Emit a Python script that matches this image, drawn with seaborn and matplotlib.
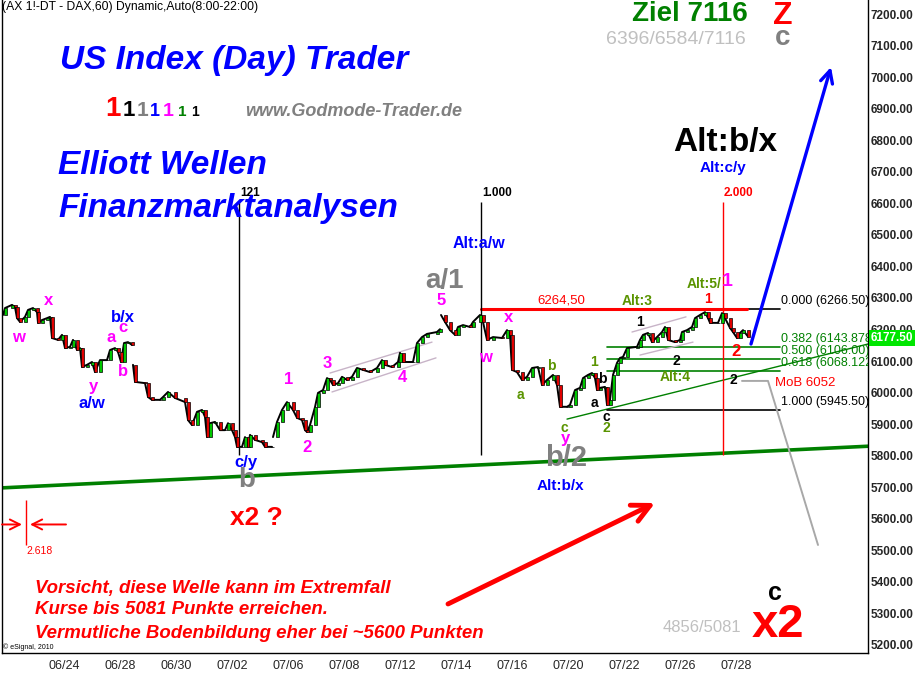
import pandas as pd
import seaborn as sns
import matplotlib.pyplot as plt

# hourly DAX path; x = hourly bar number (0 = 06/24 open,
# 14 bars per trading day)
bars_a = [-30.5, -29.5, -26, -24.5, -23.5, -22, -19.5, -18, -15.5, -13.5,
          -13, -11, -8.5, -7, -6, -3, -1, 0.5, 3, 4.5,
          6.5, 8, 9, 11.5, 14, 15.5, 18, 21.5, 23, 25.5,
          27, 28.5, 30, 32, 34]
close_a = [6246, 6268, 6278, 6271, 6236, 6224, 6240, 6262, 6268, 6255,
           6221, 6230, 6236, 6240, 6173, 6167, 6183, 6141, 6145, 6167,
           6135, 6141, 6081, 6088, 6097, 6065, 6103, 6103, 6135, 6141,
           6129, 6097, 6157, 6160, 6151]
bars_b = [34.5, 35.5, 40.5, 42, 44, 48, 49.5, 52, 55.5, 60.5,
          62, 64, 66.5, 69, 70.5, 71.5, 73, 75.5, 78, 80.5,
          82, 84, 85.5, 86.5, 89, 90.5, 92, 93, 95.5, 99,
          100.5, 104]
close_b = [6088, 6034, 6030, 5986, 5977, 5977, 5986, 6002, 5983, 5970,
           5913, 5897, 5939, 5945, 5923, 5859, 5903, 5907, 5881, 5881,
           5903, 5881, 5859, 5828, 5828, 5859, 5828, 5866, 5850, 5843,
           5828, 5828]
bars_c = [104.5, 106.5, 109, 111.5, 114.5, 116.5, 119, 120.5, 121.5, 123,
          125.5, 127, 129.5, 131.5, 133, 134.5, 137, 139, 141.5, 144,
          146.5, 149.5, 153, 156.5, 159, 160.5, 164, 167, 168, 169.5,
          172, 174.5, 176.5, 179, 181.5, 186.5, 188]
close_c = [5859, 5907, 5945, 5970, 5945, 5920, 5913, 5881, 5875, 5897,
           5954, 5999, 6008, 6046, 6040, 6024, 6030, 6050, 6040, 6050,
           6078, 6072, 6065, 6078, 6103, 6088, 6081, 6097, 6126, 6097,
           6097, 6097, 6157, 6176, 6186, 6192, 6201]
bars_d = [188.5, 190.5, 193, 195.5, 197, 199.5, 203, 204.5, 208, 209.5,
          211.5, 214.5, 219, 221.5, 223, 224, 226.5, 229, 231.5, 234,
          237, 239, 241.5, 244.5, 246.5, 248, 251.5, 253, 255.5, 258,
          259.5, 262, 264, 265.5, 266.5, 268, 270.5, 271.5, 273, 274.5,
          276.5, 278, 279.5, 281.5, 286.5, 288, 289.5, 292, 294, 296.5,
          299, 300.5, 302, 305.5, 308, 309, 311.5, 314, 315.5, 318,
          320.5, 322, 323, 327, 329, 330.5, 333, 334.5, 336.5, 338,
          339.5, 342]
close_d = [6246, 6224, 6198, 6183, 6208, 6214, 6208, 6224, 6246, 6224,
           6167, 6176, 6173, 6198, 6183, 6072, 6065, 6040, 6050, 6078,
           6081, 6024, 6040, 6056, 6024, 5955, 5955, 5961, 6008, 6015,
           6046, 6056, 6062, 6046, 6008, 6015, 6018, 5961, 5977, 6056,
           6094, 6110, 6113, 6141, 6145, 6167, 6183, 6189, 6160, 6176,
           6192, 6208, 6167, 6160, 6167, 6192, 6198, 6208, 6236, 6246,
           6255, 6236, 6221, 6221, 6252, 6236, 6205, 6192, 6173, 6189,
           6198, 6177.5]

date_labels = ["06/24", "06/28", "06/30", "07/02", "07/06", "07/08", "07/12",
               "07/14", "07/16", "07/20", "07/22", "07/26", "07/28"]
date_bars = list(range(0, 337, 28))
price_ticks = list(range(5200, 7201, 100))

fib_levels = [6266.5, 6143.878, 6106.0, 6068.122, 5945.5]
fib_names = ["0.000 (6266.50)", "0.382 (6143.878)", "0.500 (6106.00)",
             "0.618 (6068.122)", "1.000 (5945.50)"]
fib_colors = ["black", "#008000", "#008000", "#008000", "black"]
fib_span = [271.5, 358]
high_mark = 6264.5
high_span = [208.5, 341.5]
time_bars = [87.5, 208.5, 329.5]
time_names = ["121", "1.000", "2.000"]
time_colors = ["black", "black", "red"]
time_range = [5803, 6604]
trend_bars = [-31, 402]
trend_prices = [5698, 5830]
thin_bars = [251.5, 402]
thin_prices = [5916, 6154]
last_price = 6177.50

W, H = 916, 674
sns.set_style("white")
plt.rcParams["font.family"] = ["Liberation Sans", "DejaVu Sans"]

fig = plt.figure(figsize=(W / 100, H / 100), dpi=100)
ax = fig.add_axes([2 / W, 21 / H, 866 / W, 653 / H])

legs = []
for name, b, c in [("a", bars_a, close_a), ("b", bars_b, close_b),
                   ("c", bars_c, close_c), ("d", bars_d, close_d)]:
    legs.append(pd.DataFrame({"bar": b, "close": c, "leg": name}))
df = pd.concat(legs, ignore_index=True)
df["open"] = df.groupby("leg")["close"].shift(1)
candles = df.dropna()

sns.lineplot(data=df, x="bar", y="close", units="leg", estimator=None,
             color="black", lw=1.4, ax=ax, legend=False, zorder=3)
up = candles["close"] >= candles["open"]
ax.bar(candles["bar"], (candles["close"] - candles["open"]).abs(),
       bottom=candles[["open", "close"]].min(axis=1), width=1.5,
       color=["#00c800" if u else "#e00000" for u in up],
       edgecolor="black", linewidth=0.5, zorder=4)

# trend lines, fib levels, time markers
ax.plot(trend_bars, trend_prices, color="#008000", lw=2.6, zorder=2)
ax.plot(thin_bars, thin_prices, color="#008000", lw=1, zorder=2)
for lvl, name, col in zip(fib_levels, fib_names, fib_colors):
    ax.plot(fib_span, [lvl, lvl], color=col, lw=1.2, zorder=2)
    ax.text(358.5, lvl + 25, name, color=col, fontsize=9, va="center",
            clip_on=True, zorder=5)
ax.plot(high_span, [high_mark, high_mark], color="red", lw=2.2, zorder=2)
ax.text(248.5, high_mark + 28, "6264,50", color="red", fontsize=9.5,
        ha="center", va="center")
for b, name, col in zip(time_bars, time_names, time_colors):
    ax.vlines(b, time_range[0], time_range[1], color=col, lw=1, zorder=2)
    ax.text(b + 0.5, time_range[1] + 30, name, color=col, fontsize=8.5,
            fontweight="bold", va="center")

# channels and the MoB projection
ax.plot([133, 184], [6062, 6160], color="#c8b4c8", lw=1, zorder=2)
ax.plot([134, 186], [6002, 6110], color="#c8b4c8", lw=1, zorder=2)
ax.plot([284, 311], [6192, 6240], color="#c8b4c8", lw=1, zorder=2)
ax.plot([288, 314.5], [6119, 6160], color="#c8b4c8", lw=1, zorder=2)
ax.plot([339, 352, 377], [6037, 6037, 5517], color="#a8a8a8", lw=1.4,
        zorder=2)

# arrows
ax.annotate("", xy=(383.5, 7032), xytext=(343.5, 6154),
            arrowprops=dict(arrowstyle="->", color="#0000ff", lw=2.4,
                            mutation_scale=22, shrinkA=0, shrinkB=0))
ax.annotate("", xy=(295.5, 5650), xytext=(192, 5330),
            arrowprops=dict(arrowstyle="->", color="red", lw=3.5,
                            mutation_scale=32, shrinkA=0, shrinkB=0))
ax.vlines(-19, 5517, 5660, color="red", lw=1)
ax.annotate("", xy=(-21, 5582), xytext=(-31, 5582),
            arrowprops=dict(arrowstyle="->", color="red", lw=1.4,
                            mutation_scale=18, shrinkA=0, shrinkB=0))
ax.annotate("", xy=(-17, 5582), xytext=(1, 5582),
            arrowprops=dict(arrowstyle="->", color="red", lw=1.4,
                            mutation_scale=18, shrinkA=0, shrinkB=0))

ax.set_xlim(-31, 402)
ax.set_ylim(5174.6, 7244.4)
ax.set_xticks(date_bars)
ax.set_xticklabels(date_labels, fontsize=9)
ax.set_yticks(price_ticks)
ax.set_yticklabels([f"{p:.2f}" for p in price_ticks], fontsize=8.5,
                   fontweight="bold")
ax.yaxis.tick_right()
ax.tick_params(length=0, pad=2)
ax.tick_params(axis="x", pad=5)
ax.set_xlabel("")
ax.set_ylabel("")
ax.spines["top"].set_visible(False)
for s in ["left", "right", "bottom"]:
    ax.spines[s].set_color("black")
    ax.spines[s].set_linewidth(1)


def put(px, py, s, size, color="black", weight="bold", style="normal",
        ha="center", va="center", **kw):
    fig.text(px / W, 1 - py / H, s, fontsize=size, color=color,
             fontweight=weight, fontstyle=style, ha=ha, va=va, **kw)


blue, mag, gray, olive = "#0000ff", "#ff00ff", "#808080", "#5a9400"

put(2, 7, "(AX 1!-DT - DAX,60) Dynamic,Auto(8:00-22:00)", 8.7,
    weight="normal", ha="left")
put(60, 61, "US Index (Day) Trader", 24, blue, style="italic", ha="left")
put(58, 166, "Elliott Wellen", 24, blue, style="italic", ha="left")
put(58, 208, "Finanzmarktanalysen", 24, blue, style="italic", ha="left")
put(245, 112, "www.Godmode-Trader.de", 13, gray, style="italic", ha="left")
for x, col, size in zip([113, 129, 143, 155, 168, 182, 195],
                        ["red", "black", gray, blue, mag, "#008000", "black"],
                        [20, 16, 15, 13, 14, 11, 10]):
    put(x, 116, "1", size, col, va="baseline")

put(690, 14, "Ziel 7116", 20, "#008000")
put(783, 16, "Z", 23, "red")
put(676, 40, "6396/6584/7116", 14, "#c0c0c0", weight="normal")
put(783, 38, "c", 20, gray)
put(725, 143, "Alt:b/x", 24)
put(723, 168, "Alt:c/y", 11, blue)
put(479, 243, "Alt:a/w", 11.5, blue)
put(445, 281, "a/1", 20, gray)
put(566, 458, "b/2", 21, gray)
put(560, 486, "Alt:b/x", 11, blue)
put(247, 480, "b", 20, gray)
put(246, 462, "c/y", 12, blue)
put(256, 518, "x2 ?", 19, "red")
put(40, 551, "2.618", 7.5, "red", weight="normal")

# wave labels, left part
for x, y, s, col in [(18, 337, "w", mag), (49, 301, "x", mag),
                     (123, 318, "b/x", blue), (123, 328, "c", mag),
                     (111, 338, "a", mag), (123, 372, "b", mag),
                     (93, 386, "y", mag), (92, 403, "a/w", blue),
                     (289, 379, "1", mag), (307, 448, "2", mag),
                     (327, 363, "3", mag), (402, 377, "4", mag),
                     (441, 301, "5", mag), (509, 318, "x", mag),
                     (485, 358, "w", mag), (565, 438, "y", mag)]:
    put(x, y, s, 12, col)

# wave labels, right part
for x, y, s, col in [(551, 366, "b", olive), (520, 395, "a", olive),
                     (594, 362, "1", olive), (564, 428, "c", olive),
                     (606, 428, "2", olive), (602, 379, "b", "black"),
                     (594, 403, "a", "black"), (606, 417, "c", "black"),
                     (640, 322, "1", "black"), (676, 361, "2", "black"),
                     (733, 380, "2", "black")]:
    put(x, y, s, 10, col)
put(637, 301, "Alt:3", 10, olive)
put(675, 377, "Alt:4", 10, olive)
put(704, 284, "Alt:5/", 10, olive)
put(727, 282, "1", 14, mag)
put(708, 299, "1", 10, "red")
put(736, 351, "2", 12, "red")
put(805, 383, "MoB 6052", 9.5, "red", weight="normal")

put(35, 588, "Vorsicht, diese Welle kann im Extremfall", 13.4, "red",
    style="italic", ha="left")
put(35, 610, "Kurse bis 5081 Punkte erreichen.", 13.4, "red",
    style="italic", ha="left")
put(35, 633, "Vermutliche Bodenbildung eher bei ~5600 Punkten", 13.4, "red",
    style="italic", ha="left")
put(3, 647, "\u00a9 eSignal, 2010", 5, weight="normal", ha="left")
put(775, 593, "c", 18)
put(778, 625, "x2", 34, "red")
put(702, 628, "4856/5081", 12, "#c0c0c0", weight="normal")

put(892, 338, f"{last_price:.2f}", 8.5, "white",
    bbox=dict(boxstyle="square,pad=0.15", facecolor="#00e600",
              edgecolor="none"))

fig.savefig("out.png", dpi=100)
